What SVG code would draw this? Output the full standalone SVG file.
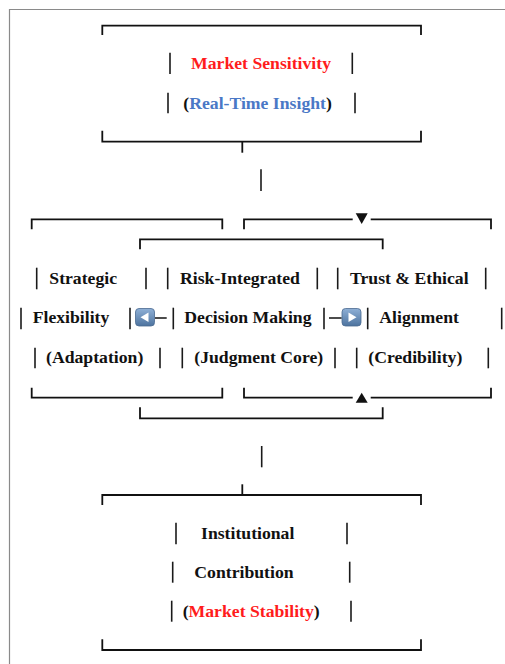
<svg xmlns="http://www.w3.org/2000/svg" width="505" height="664" viewBox="0 0 505 664">
<style>
.t{font-family:"Liberation Serif","Times New Roman",serif;font-weight:bold;font-size:17.7px;fill:#111}
.red{fill:#ff1c1c}
.blue{fill:#4a78c6}
.br{fill:none;stroke:#111;stroke-width:1.8}
.bar{stroke:#1a1a1a;stroke-width:1.6}
.dash{stroke:#111;stroke-width:1.5}
.frame{fill:none;stroke:#8a8a8a;stroke-width:1.2}
.btn{fill:url(#bg);stroke:#4a6a90;stroke-width:0.8}
.tri{fill:#111}
</style>
<defs>
<linearGradient id="bg" x1="0" y1="0" x2="0" y2="1">
<stop offset="0" stop-color="#8fb0d6"/>
<stop offset="1" stop-color="#4d739f"/>
</linearGradient>
</defs>
<rect width="505" height="664" fill="#fff"/>
<path class="frame" d="M9.5,664 V9.5 H505"/>

<g id="node-market-sensitivity">
<path class="br" d="M102.3,35 V25.7 H421 V35"/>
<path class="br" d="M102.3,130.7 V141.7 H421 V130.7"/>
<line class="bar" x1="170" y1="52.7" x2="170" y2="74"/>
<line class="bar" x1="352.3" y1="52.7" x2="352.3" y2="74"/>
<line class="bar" x1="168" y1="92.7" x2="168" y2="113.3"/>
<line class="bar" x1="355" y1="92.7" x2="355" y2="113.3"/>
<text class="t red" x="191" y="69.3">Market Sensitivity</text>
<text class="t" x="183.3" y="108.8">(<tspan class="blue">Real-Time Insight</tspan>)</text>
</g>

<g id="node-strategic-flexibility">
<path class="br" d="M31.7,229.3 V219.3 H222.3 V229.3"/>
<path class="br" d="M31.7,387.7 V397.7 H222.3 V387.7"/>
<line class="bar" x1="36.7" y1="267.7" x2="36.7" y2="289.3"/>
<line class="bar" x1="146" y1="267.7" x2="146" y2="289.3"/>
<line class="bar" x1="21" y1="307.7" x2="21" y2="329.3"/>
<line class="bar" x1="130" y1="307.7" x2="130" y2="329.3"/>
<line class="bar" x1="35" y1="347.7" x2="35" y2="368.3"/>
<line class="bar" x1="160" y1="347.7" x2="160" y2="368.3"/>
<text class="t" x="49.3" y="283.6">Strategic</text>
<text class="t" x="32.7" y="323.4">Flexibility</text>
<text class="t" x="46" y="363.2">(Adaptation)</text>
</g>

<g id="node-risk-integrated">
<path class="br" d="M140,249.3 V239.3 H382.7 V249.3"/>
<path class="br" d="M140,407.3 V418.3 H382.7 V407.3"/>
<line class="bar" x1="167.7" y1="267.7" x2="167.7" y2="289.3"/>
<line class="bar" x1="317.3" y1="267.7" x2="317.3" y2="289.3"/>
<line class="bar" x1="173.3" y1="307.7" x2="173.3" y2="329.3"/>
<line class="bar" x1="324" y1="307.7" x2="324" y2="329.3"/>
<line class="bar" x1="182.3" y1="347.7" x2="182.3" y2="368.3"/>
<line class="bar" x1="335" y1="347.7" x2="335" y2="368.3"/>
<text class="t" x="180" y="283.6">Risk-Integrated</text>
<text class="t" x="184.3" y="323.4">Decision Making</text>
<text class="t" x="194.3" y="363.2">(Judgment Core)</text>
</g>

<g id="node-trust-ethical">
<path class="br" d="M244,229.3 V219.3 H352.7 M370.7,219.3 H491 V229.3"/>
<path class="br" d="M244,387.7 V397.7 H352.7 M370.7,397.7 H491 V387.7"/>
<line class="bar" x1="337.7" y1="267.7" x2="337.7" y2="289.3"/>
<line class="bar" x1="485.7" y1="267.7" x2="485.7" y2="289.3"/>
<line class="bar" x1="367.7" y1="307.7" x2="367.7" y2="329.3"/>
<line class="bar" x1="501.7" y1="307.7" x2="501.7" y2="329.3"/>
<line class="bar" x1="356.7" y1="347.7" x2="356.7" y2="368.3"/>
<line class="bar" x1="488.3" y1="347.7" x2="488.3" y2="368.3"/>
<text class="t" x="350" y="283.6">Trust &amp; Ethical</text>
<text class="t" x="379.3" y="323.4">Alignment</text>
<text class="t" x="368.3" y="363.2">(Credibility)</text>
</g>

<g id="node-institutional-contribution">
<path class="br" d="M102.3,505 V495 H421 V505"/>
<path class="br" d="M102.3,639.3 V650 H421 V639.3"/>
<line class="bar" x1="176" y1="522.7" x2="176" y2="544.3"/>
<line class="bar" x1="347" y1="522.7" x2="347" y2="544.3"/>
<line class="bar" x1="172.7" y1="561.7" x2="172.7" y2="582.7"/>
<line class="bar" x1="349.7" y1="561.7" x2="349.7" y2="582.7"/>
<line class="bar" x1="171.7" y1="600.7" x2="171.7" y2="621.7"/>
<line class="bar" x1="351" y1="600.7" x2="351" y2="621.7"/>
<text class="t" x="201" y="539.2">Institutional</text>
<text class="t" x="194.3" y="577.8">Contribution</text>
<text class="t" x="182.7" y="616.6">(<tspan class="red">Market Stability</tspan>)</text>
</g>

<g id="connectors">
<line class="br" x1="242.3" y1="141.7" x2="242.3" y2="152.7"/>
<line class="bar" x1="261" y1="169.3" x2="261" y2="191"/>
<polygon class="tri" points="355.7,213.3 367.7,213.3 361.7,224"/>
<polygon class="tri" points="355.7,402.7 367.7,402.7 361.7,392.7"/>
<line class="bar" x1="261.7" y1="446" x2="261.7" y2="467.3"/>
<line class="br" x1="242.3" y1="484.3" x2="242.3" y2="495"/>
<rect class="btn" x="135.5" y="308.5" width="19" height="17.5" rx="3.5"/>
<polygon fill="#fff" points="140.5,317.2 148.5,312.4 148.5,322"/>
<line class="dash" x1="155" y1="318" x2="166.7" y2="318"/>
<line class="dash" x1="329" y1="318" x2="341.7" y2="318"/>
<rect class="btn" x="342" y="308.5" width="19" height="17.5" rx="3.5"/>
<polygon fill="#fff" points="348.5,312.4 348.5,322 356.5,317.2"/>
</g>
</svg>
